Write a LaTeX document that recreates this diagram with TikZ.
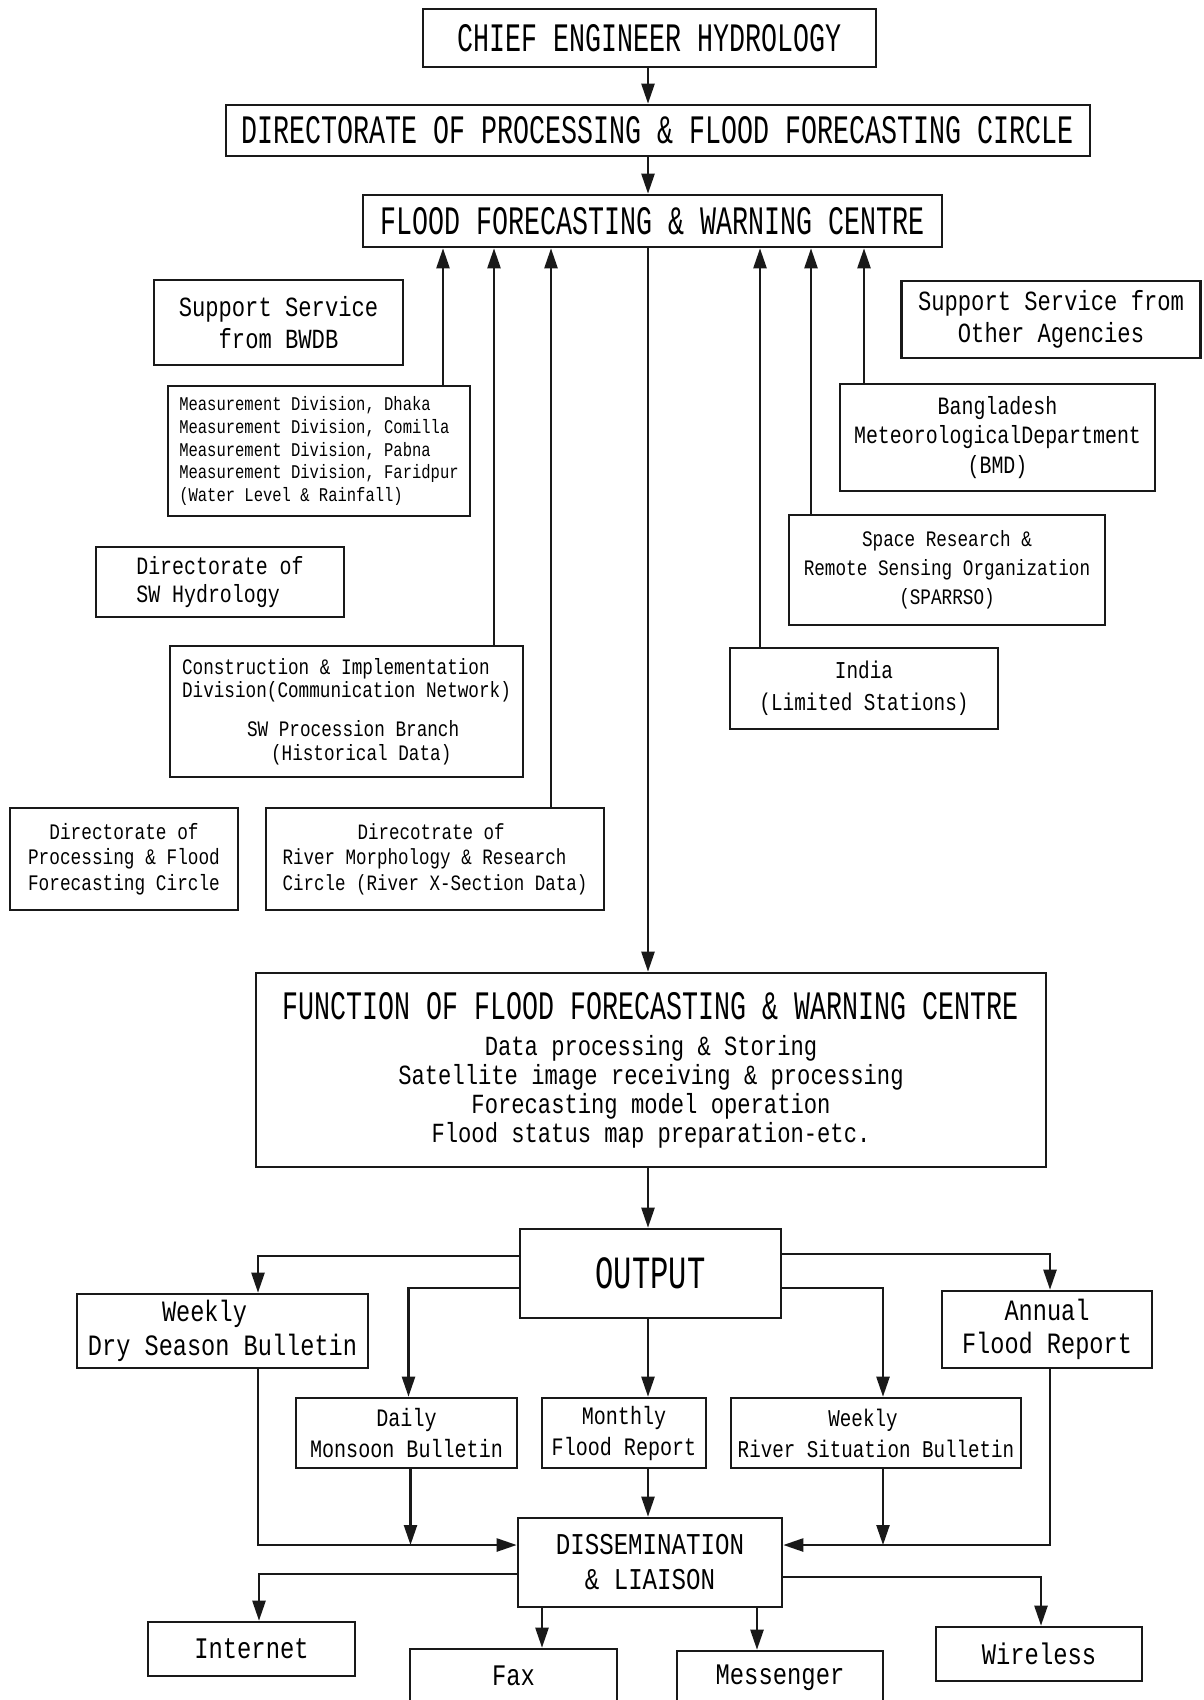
\documentclass[tikz,border=0pt]{standalone}
\usepackage{fontspec}
\setmainfont{Liberation Mono}[FakeStretch=0.8]
\newfontfamily\headfont{Liberation Mono}[FakeStretch=0.66]
\usetikzlibrary{arrows.meta,calc}
\newcommand{\fsz}[2]{\fontsize{#1}{#2}\selectfont}
\tikzset{
  orgbox/.style={draw=black!90,line width=2.6pt,inner sep=0pt,align=center},
  headbox/.style={orgbox,font=\headfont\fsz{40.4}{46}},
  wh/.style 2 args={minimum width=#1pt,minimum height=#2pt},
  flow/.style={-{Triangle[length=20pt,width=13pt]},draw=black!90,line width=2.4pt},
}

\begin{document}
\begin{tikzpicture}[x=1pt,y=-1pt]
  \path[use as bounding box,fill=white] (0,0) rectangle (1203,1700);
  \coordinate (spine) at (648,0);

  % top chain
  \node[headbox,wh={453}{58}] (chief) at (649.5,38) {CHIEF ENGINEER HYDROLOGY};
  \node[headbox,wh={864}{51}] (dirpfc) at (658,130.5)
    {DIRECTORATE OF PROCESSING \& FLOOD FORECASTING CIRCLE};
  \node[headbox,wh={579}{52}] (ffwc) at (652.5,221) {FLOOD FORECASTING \& WARNING CENTRE};

  % support service from BWDB
  \node[orgbox,wh={249}{85},font=\fsz{27.7}{32}] (supbwdb) at (278.5,322.5)
    {Support Service\\from BWDB};
  \node[orgbox,wh={302}{130},align=left,font=\fsz{19.4}{22.75}] (meas) at (319,451)
    {Measurement Division, Dhaka\\Measurement Division, Comilla\\
     Measurement Division, Pabna\\Measurement Division, Faridpur\\
     (Water Level \& Rainfall)};
  \node[orgbox,wh={248}{70},align=left,font=\fsz{24.9}{28.5}] (swhyd) at (220,582)
    {Directorate of\\SW Hydrology};
  \node[orgbox,wh={353}{131},align=left,font=\fsz{22.1}{23.5}] (constr) at (346.5,711.5)
    {Construction \& Implementation\\Division(Communication Network)\\[15.5pt]
     \hspace*{65pt}SW Procession Branch\\\hspace*{89pt}(Historical Data)};
  \node[orgbox,wh={228}{102},font=\fsz{22.2}{25.5}] (dpfc) at (124,859)
    {Directorate of\\Processing \& Flood\\Forecasting Circle};
  \node[orgbox,wh={338}{102},align=left,font=\fsz{21.9}{25.5}] (rivmorph) at (435,859)
    {\hspace*{75pt}Direcotrate of\\River Morphology \& Research\\Circle (River X-Section Data)};

  % support service from other agencies
  \node[orgbox,wh={299}{77},font=\fsz{27.7}{32}] (otheragency) at (1051,319.5)
    {Support Service from\\Other Agencies};
  \node[orgbox,wh={315}{107},font=\fsz{24.9}{29.5}] (bmd) at (997.5,437.5)
    {Bangladesh\\MeteorologicalDepartment\\(BMD)};
  \node[orgbox,wh={316}{110},font=\fsz{22.1}{29}] (sparrso) at (947,570)
    {Space Research \&\\Remote Sensing Organization\\(SPARRSO)};
  \node[orgbox,wh={268}{81},font=\fsz{24.2}{32}] (india) at (864,688.5)
    {India\\(Limited Stations)};

  \foreach \src/\xx in {meas/443,constr/494,rivmorph/551,india/760,sparrso/811,bmd/864}{
    \coordinate (tap) at (\xx,0);
    \draw[flow] (tap |- \src.north) -- (tap |- ffwc.south);
  }

  % function and output
  \node[orgbox,wh={790}{194},font=\fsz{27.7}{29}] (func) at (651,1070)
    {{\headfont\fsz{40.4}{46}FUNCTION OF FLOOD FORECASTING \& WARNING CENTRE}\\[7pt]
     Data processing \& Storing\\Satellite image receiving \& processing\\
     Forecasting model operation\\Flood status map preparation-etc.};
  \node[orgbox,wh={261}{89},font=\headfont\fsz{46.2}{52}] (output) at (650.5,1273.5) {OUTPUT};

  \node[orgbox,wh={291}{74},font=\fsz{29.5}{34}] (drybull) at (222.5,1331)
    {Weekly\rule{36pt}{0pt}\\Dry Season Bulletin};
  \node[orgbox,wh={210}{77},font=\fsz{29.5}{33}] (annual) at (1047,1329.5)
    {Annual\\Flood Report};
  \node[orgbox,wh={221}{70},font=\fsz{25.1}{31}] (daily) at (406.5,1433)
    {Daily\\Monsoon Bulletin};
  \node[orgbox,wh={164}{70},font=\fsz{25.1}{31}] (monthly) at (624,1433)
    {Monthly\\Flood Report};
  \node[orgbox,wh={290}{70},font=\fsz{24}{31}] (wkriver) at (876,1433)
    {Weekly\rule{26pt}{0pt}\\River Situation Bulletin};

  \node[orgbox,wh={264}{89},font=\fsz{30.2}{35}] (dissem) at (650,1562.5)
    {DISSEMINATION\\\& LIAISON};

  \node[orgbox,wh={207}{54},font=\fsz{29.8}{34}] (internet) at (251.5,1649) {Internet};
  \node[orgbox,wh={207}{54},font=\fsz{29.8}{34}] (fax) at (513.5,1676) {Fax};
  \node[orgbox,wh={206}{54},font=\fsz{29.8}{34}] (messenger) at (780,1678) {Messenger};
  \node[orgbox,wh={206}{54},font=\fsz{29.8}{34}] (wireless) at (1039,1654) {Wireless};

  % main spine
  \draw[flow] (spine |- chief.south) -- (spine |- dirpfc.north);
  \draw[flow] (spine |- dirpfc.south) -- (spine |- ffwc.north);
  \draw[flow] (spine |- ffwc.south) -- (spine |- func.north);
  \draw[flow] (spine |- func.south) -- (spine |- output.north);

  % output branches
  \draw[flow] ([yshift=17.5pt]output.west) -| ([xshift=35.5pt]drybull.north);
  \draw[flow] ([yshift=-14.5pt]output.west) -| ([xshift=2pt]daily.north);
  \draw[flow] (spine |- output.south) -- (spine |- monthly.north);
  \draw[flow] ([yshift=-14.5pt]output.east) -| ([xshift=7pt]wkriver.north);
  \draw[flow] ([yshift=19.5pt]output.east) -| ([xshift=3pt]annual.north);

  % into dissemination
  \coordinate (mergeL) at ([yshift=17.5pt]dissem.west);
  \coordinate (mergeR) at ([yshift=17.5pt]dissem.east);
  \coordinate (dropL) at ([xshift=4pt]daily.south);
  \coordinate (dropR) at ([xshift=7pt]wkriver.south);
  \draw[flow] ([xshift=35.5pt]drybull.south) |- (mergeL);
  \draw[flow] (dropL) -- (dropL |- mergeL);
  \draw[flow] (spine |- monthly.south) -- (spine |- dissem.north);
  \draw[flow] (dropR) -- (dropR |- mergeR);
  \draw[flow] ([xshift=3pt]annual.south) |- (mergeR);

  % dissemination channels
  \coordinate (faxdrop) at ([xshift=28.5pt]fax.north);
  \coordinate (msgdrop) at ([xshift=-23pt]messenger.north);
  \draw[flow] ([yshift=-11.5pt]dissem.west) -| ([xshift=7.5pt]internet.north);
  \draw[flow] (faxdrop |- dissem.south) -- (faxdrop);
  \draw[flow] (msgdrop |- dissem.south) -- (msgdrop);
  \draw[flow] ([yshift=-14.5pt]dissem.east) -| ([xshift=2pt]wireless.north);
\end{tikzpicture}
\end{document}
